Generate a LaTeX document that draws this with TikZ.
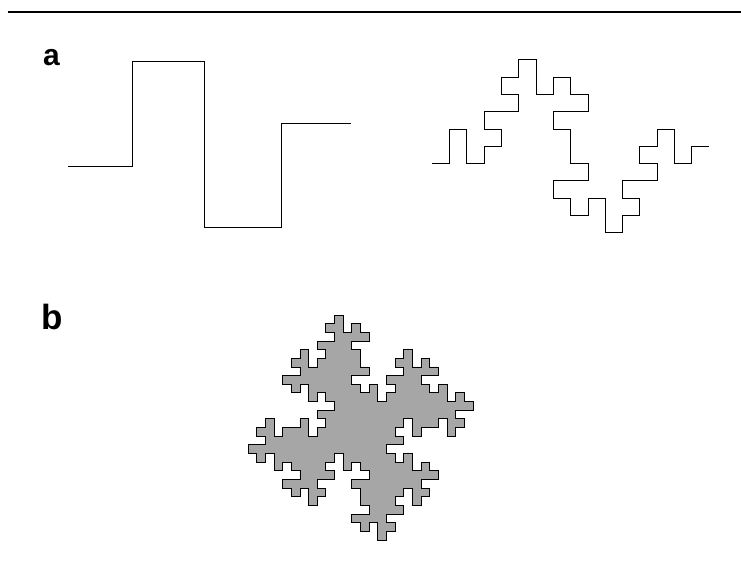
\documentclass[tikz,border=0pt]{standalone}
\usepackage{fontspec}
\setmainfont{Liberation Sans}
\begin{document}
\begin{tikzpicture}[x=1pt,y=1pt,line join=miter,
  curve/.style={draw=black,line width=0.9pt},
  island/.style={draw=black,line width=0.9pt,fill=black!35},
  panellabel/.style={inner sep=0pt,anchor=base west,font=\bfseries}]
\useasboundingbox (0,0) rectangle (741,-568);
\def\sidelist{0/1,90/1,0/1,-90/2,0/1,90/1,0/1,90/1,180/1,90/1,0/2,90/1,180/1,90/1,0/1,90/1,0/1,-90/2,0/1,90/1,0/1,-90/1,0/1,-90/1,180/2,-90/1,0/1,-90/2,0/1,-90/1,180/2,-90/1,0/1,-90/1,0/1,90/1,0/1,-90/2,0/1,90/1,0/1,90/1,180/1,90/1,0/2,90/1,180/1,90/1,0/1,90/1,0/1,-90/2,0/1,90/1,0/1}
\def\glitchlist{0/1,90/2,0/1,-90/2,0/1,90/1,0/1,90/1,180/1,90/1,0/2,90/1,180/1,90/1,0/1,90/1,0/1,-90/2,0/1,90/1,0/1,-90/1,0/1,-90/1,180/2,-90/1,0/1,-90/2,0/1,-90/1,180/2,-90/1,0/1,-90/1,0/1,90/1,0/1,-90/2,0/1,90/1,0/1,90/1,180/1,90/1,0/2,90/1,180/1,90/1,0/1,90/1,0/1,-90/2,0/1,90/1,0/1}
% top rule
\coordinate (ruleL) at (7.5,-12);
\coordinate (ruleR) at (741,-12);
\draw[line width=1.2pt] (ruleL) -- (ruleR);
% labels
\node[panellabel,font=\bfseries\fontsize{30}{30}\selectfont] (la) at (43,-65.5) {a};
\node[panellabel,font=\bfseries\fontsize{35}{35}\selectfont] (lb) at (41,-329.5) {b};
% generator
\coordinate (g0) at (67.7,-166);
\draw[curve] (g0) -- (132.7,-166) -- (132.7,-61) -- (204.3,-61) -- (204.3,-227.3)
  -- (281,-227.3) -- (281,-123.3) -- (351,-123.3);
% second stage
\coordinate (s0) at (432.3,-163.6);
\draw[curve] (s0) \foreach \a/\l in \glitchlist { -- ++(\a:{\l*17.3}) };
% island
\coordinate (i0) at (291.3,-358.3);
\path[island] (i0) \foreach \r in {0,-90,-180,-270} { \foreach \a/\l in \sidelist { -- ++({\a+\r}:{\l*8.65}) } } -- cycle;
\end{tikzpicture}
\end{document}
